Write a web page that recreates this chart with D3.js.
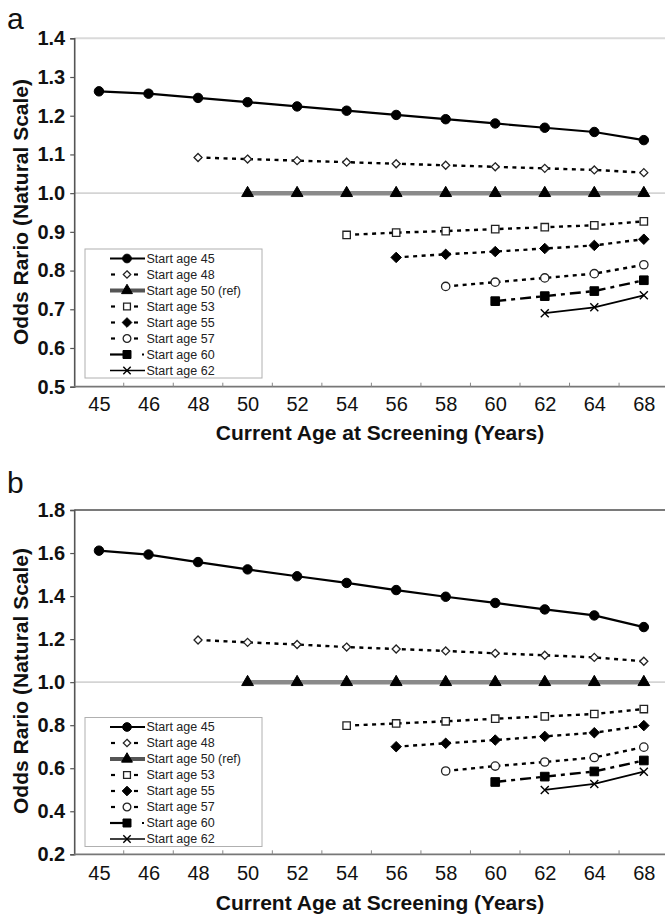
<!DOCTYPE html>
<html><head><meta charset="utf-8">
<script src="https://cdn.jsdelivr.net/npm/d3@7"></script>
<style>
html,body{margin:0;padding:0;background:#fff;}
svg{display:block;font-family:"Liberation Sans",Arial,sans-serif;}
</style></head>
<body>
<script>
// ---------- DATA ----------
const categories = ["45","46","48","50","52","54","56","58","60","62","64","68"];
const seriesNames = ["Start age 45","Start age 48","Start age 50 (ref)","Start age 53","Start age 55","Start age 57","Start age 60","Start age 62"];

// Panel a values (null = not plotted)
const a45 = [1.263,1.257,1.246,1.235,1.224,1.213,1.202,1.191,1.180,1.169,1.158,1.137];
const a48 = [null,null,1.092,1.088,1.084,1.080,1.076,1.072,1.068,1.064,1.060,1.053];
const a50 = [null,null,null,1.0,1.0,1.0,1.0,1.0,1.0,1.0,1.0,1.0];
const a53 = [null,null,null,null,null,0.892,0.898,0.902,0.907,0.912,0.917,0.927];
const a55 = [null,null,null,null,null,null,0.834,0.842,0.849,0.857,0.865,0.881];
const a57 = [null,null,null,null,null,null,null,0.759,0.770,0.781,0.792,0.815];
const a60 = [null,null,null,null,null,null,null,null,0.721,0.734,0.747,0.775];
const a62 = [null,null,null,null,null,null,null,null,null,0.690,0.705,0.736];

// Panel b values
const b45 = [1.611,1.593,1.558,1.524,1.492,1.461,1.428,1.397,1.368,1.338,1.310,1.256];
const b48 = [null,null,1.196,1.185,1.175,1.163,1.154,1.145,1.134,1.125,1.115,1.097];
const b50 = [null,null,null,1.0,1.0,1.0,1.0,1.0,1.0,1.0,1.0,1.0];
const b53 = [null,null,null,null,null,0.798,0.808,0.818,0.830,0.841,0.852,0.875];
const b55 = [null,null,null,null,null,null,0.700,0.716,0.731,0.748,0.765,0.798];
const b57 = [null,null,null,null,null,null,null,0.587,0.610,0.629,0.650,0.698];
const b60 = [null,null,null,null,null,null,null,null,0.536,0.561,0.585,0.636];
const b62 = [null,null,null,null,null,null,null,null,null,0.499,0.527,0.584];

const ticksA = [0.5,0.6,0.7,0.8,0.9,1.0,1.1,1.2,1.3,1.4];
const ticksB = [0.2,0.4,0.6,0.8,1.0,1.2,1.4,1.6,1.8];

const xTitle = "Current Age at Screening (Years)";
const yTitle = "Odds Rario (Natural Scale)";

// ---------- STYLES ----------
const xSym = {draw(ctx,size){const r=Math.sqrt(size)/2;ctx.moveTo(-r,-r);ctx.lineTo(r,r);ctx.moveTo(r,-r);ctx.lineTo(-r,r);}};
const dSym = {draw(ctx,size){const r=Math.sqrt(size)/2;ctx.moveTo(0,-r);ctx.lineTo(r,0);ctx.lineTo(0,r);ctx.lineTo(-r,0);ctx.closePath();}};
const styles = [
  {sym:d3.symbolCircle, size:70, fill:"#000", stroke:"#000", sw:1, line:"#000", lw:2.2, dash:null, leg:"solid"},
  {sym:dSym, size:64, fill:"#fff", stroke:"#222", sw:1.3, line:"#000", lw:2.4, dash:"4,4.5", leg:"dot"},
  {sym:d3.symbolTriangle, size:60, fill:"#000", stroke:"#000", sw:1, line:"#8a8a8a", lw:4.5, dash:null, leg:"solid"},
  {sym:d3.symbolSquare, size:55, fill:"#fff", stroke:"#222", sw:1.3, line:"#000", lw:2.4, dash:"4,4.5", leg:"dot"},
  {sym:dSym, size:110, fill:"#000", stroke:"#000", sw:1, line:"#000", lw:2.4, dash:"4,4.5", leg:"dot"},
  {sym:d3.symbolCircle, size:55, fill:"#fff", stroke:"#222", sw:1.3, line:"#000", lw:2.4, dash:"4,4.5", leg:"dot"},
  {sym:d3.symbolSquare, size:75, fill:"#000", stroke:"#000", sw:1, line:"#000", lw:2.4, dash:"11,5,4,5", leg:"dashdot"},
  {sym:xSym, size:64, fill:"none", stroke:"#000", sw:1.4, line:"#000", lw:1.8, dash:null, leg:"solid"}
];

const W = 665, H = 917;
const svg = d3.select("body").append("svg").attr("width",W).attr("height",H);

function drawPanel(p){
  const g = svg.append("g");
  const x = d3.scalePoint().domain(categories).range([74.2,668.6]).padding(0.5);
  const step = x.step();
  const y = d3.scaleLinear().domain(p.domain).range([p.bottom,p.top]);
  const left = 74.2;

  // panel letter
  g.append("text").attr("x",7).attr("y",p.letterY).attr("font-size",30).attr("fill","#111").text(p.letter);

  // top line
  g.append("line").attr("x1",left).attr("x2",W).attr("y1",p.top).attr("y2",p.top)
    .attr("stroke",p.topColor).attr("stroke-width",2);
  // reference gridline 1.0
  g.append("line").attr("x1",left).attr("x2",W).attr("y1",y(1)).attr("y2",y(1))
    .attr("stroke","#d4d4d4").attr("stroke-width",1.6);

  // y axis
  const yAxis = d3.axisLeft(y).tickValues(p.ticks).tickFormat(d3.format(".1f")).tickSize(4).tickPadding(5);
  const ya = g.append("g").attr("transform",`translate(${left},0)`).call(yAxis);
  ya.select(".domain").attr("stroke","#555").attr("stroke-width",1.6);
  ya.selectAll(".tick line").attr("stroke","#555").attr("stroke-width",1.2);
  ya.selectAll(".tick text").attr("font-size",20).attr("font-weight","bold").attr("fill","#111")
    .attr("font-family","Liberation Sans, Arial, sans-serif");

  // x axis: line + boundary ticks + labels
  const xAxis = d3.axisBottom(x).tickSize(0).tickPadding(p.xPad);
  const xa = g.append("g").attr("transform",`translate(0,${p.bottom})`).call(xAxis);
  xa.select(".domain").remove();
  xa.selectAll(".tick text").attr("font-size",20).attr("fill","#111")
    .attr("font-family","Liberation Sans, Arial, sans-serif");
  g.append("line").attr("x1",left).attr("x2",W).attr("y1",p.bottom).attr("y2",p.bottom)
    .attr("stroke","#777").attr("stroke-width",1.8);
  g.selectAll(".btick").data(categories).enter().append("line")
    .attr("x1",d=>x(d)+step/2).attr("x2",d=>x(d)+step/2)
    .attr("y1",p.bottom).attr("y2",p.bottom-4)
    .attr("stroke","#888").attr("stroke-width",1);

  // titles
  g.append("text").attr("x",380).attr("y",p.xTitleY).attr("text-anchor","middle")
    .attr("font-size",21).attr("font-weight","bold").attr("fill","#111").text(xTitle);
  g.append("text").attr("transform",`translate(28,${p.yTitleC}) rotate(-90)`).attr("text-anchor","middle")
    .attr("font-size",21).attr("font-weight","bold").attr("fill","#111").text(yTitle);

  // series
  p.series.forEach((vals,i)=>{
    const st = styles[i];
    const pts = categories.map((c,j)=>({c,v:vals[j]})).filter(d=>d.v!=null);
    const line = d3.line().x(d=>x(d.c)).y(d=>y(d.v));
    g.append("path").datum(pts).attr("d",line).attr("fill","none")
      .attr("stroke",st.line).attr("stroke-width",st.lw)
      .attr("stroke-dasharray",st.dash);
    g.selectAll(".m"+i).data(pts).enter().append("path")
      .attr("transform",d=>`translate(${x(d.c)},${y(d.v)})`)
      .attr("d",d3.symbol().type(st.sym).size(st.size)())
      .attr("fill",st.fill).attr("stroke",st.stroke).attr("stroke-width",st.sw);
  });

  // legend
  const lg = g.append("g");
  lg.append("rect").attr("x",85).attr("y",p.legTop).attr("width",177).attr("height",129)
    .attr("fill","#fff").attr("stroke","#b0b0b0").attr("stroke-width",1);
  seriesNames.forEach((name,i)=>{
    const st = styles[i];
    const cy = p.legTop + 9.5 + i*16;
    if(st.leg==="solid"){
      lg.append("line").attr("x1",110).attr("x2",145).attr("y1",cy).attr("y2",cy)
        .attr("stroke",i===2?"#555":st.line).attr("stroke-width",i===2?4:(i===7?1.6:2));
    } else if(st.leg==="dot"){
      lg.append("line").attr("x1",111).attr("x2",115).attr("y1",cy).attr("y2",cy).attr("stroke","#000").attr("stroke-width",2.2);
      lg.append("line").attr("x1",134).attr("x2",138).attr("y1",cy).attr("y2",cy).attr("stroke","#000").attr("stroke-width",2.2);
    } else {
      lg.append("line").attr("x1",110).attr("x2",131).attr("y1",cy).attr("y2",cy).attr("stroke","#000").attr("stroke-width",2.2);
      lg.append("line").attr("x1",142).attr("x2",144).attr("y1",cy).attr("y2",cy).attr("stroke","#000").attr("stroke-width",1.8);
    }
    lg.append("path").attr("transform",`translate(127,${cy})`)
      .attr("d",d3.symbol().type(st.sym).size(st.size*0.85)())
      .attr("fill",st.fill).attr("stroke",st.stroke).attr("stroke-width",st.sw);
    lg.append("text").attr("x",146.5).attr("y",cy).attr("dy","0.35em")
      .attr("font-size",12.5).attr("fill","#222").text(name);
  });
}

drawPanel({letter:"a", letterY:29, domain:[0.5,1.4], ticks:ticksA, top:38.3, bottom:386.7,
  topColor:"#dadada", xPad:10, xTitleY:440, yTitleC:212, legTop:249,
  series:[a45,a48,a50,a53,a55,a57,a60,a62]});
drawPanel({letter:"b", letterY:493, domain:[0.2,1.8], ticks:ticksB, top:510, bottom:854.3,
  topColor:"#7a7a7a", xPad:12, xTitleY:910, yTitleC:681, legTop:717.5,
  series:[b45,b48,b50,b53,b55,b57,b60,b62]});
</script>
</body></html>
